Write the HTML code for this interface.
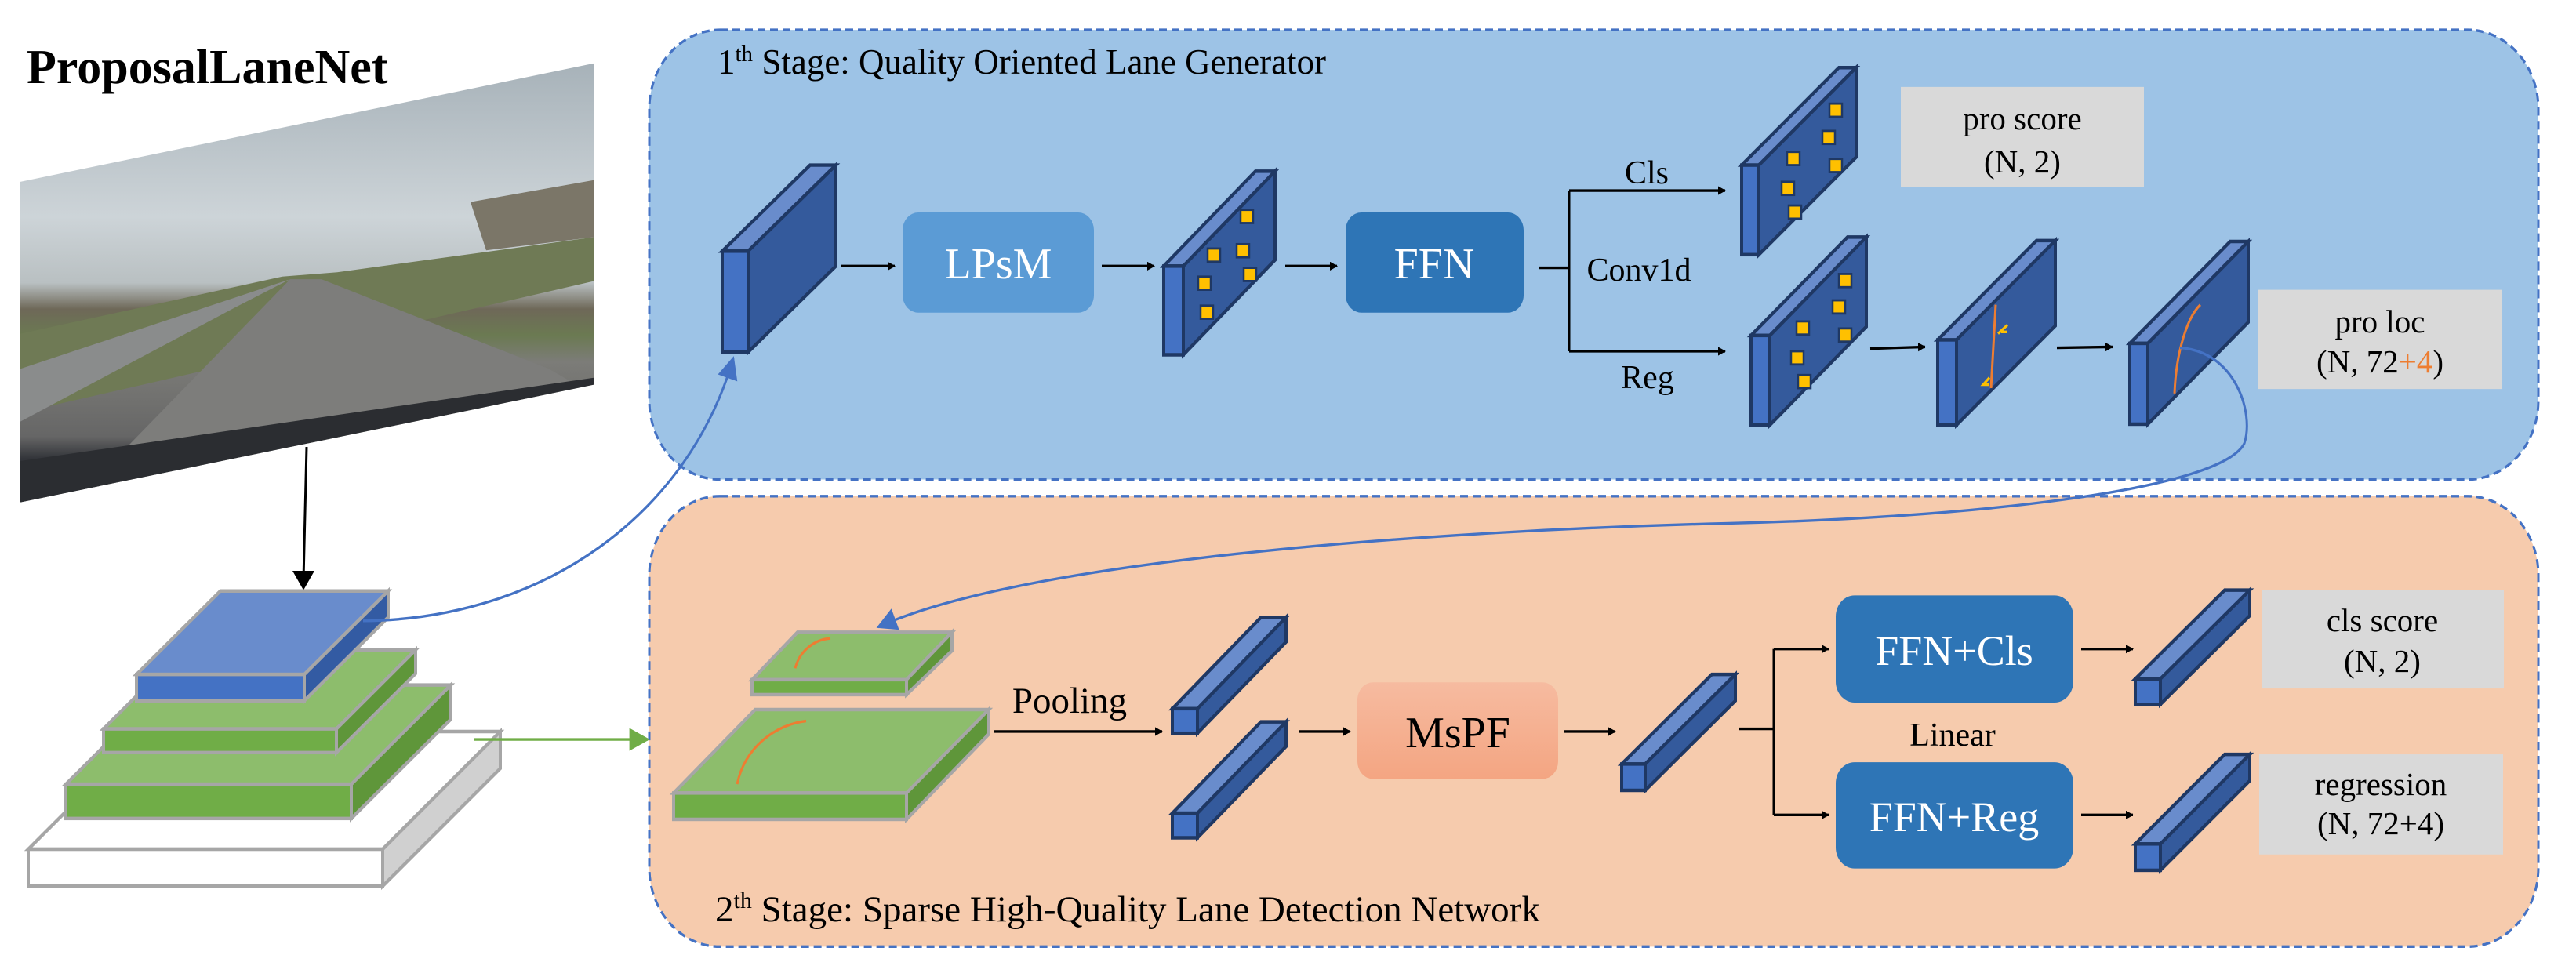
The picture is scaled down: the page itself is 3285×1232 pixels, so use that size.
<!DOCTYPE html>
<html><head><meta charset="utf-8"><style>
html,body{margin:0;padding:0;background:#fff}
svg{display:block}
svg text, svg tspan{font-family:"Liberation Serif","Times New Roman",serif !important}
</style></head><body>
<svg width="3285" height="1232" viewBox="0 0 3285 1232" xmlns="http://www.w3.org/2000/svg" font-family="Liberation Serif, serif" style="font-family:'Liberation Serif',serif">
<defs>
<marker id="ak" markerWidth="10" markerHeight="10" refX="9" refY="5" orient="auto" markerUnits="userSpaceOnUse" viewBox="0 0 10 10"><path d="M0,0 L10,5 L0,10z" fill="#000"/></marker>
<marker id="akb" viewBox="0 0 10 10" refX="9" refY="5" markerWidth="30" markerHeight="26" orient="auto" markerUnits="userSpaceOnUse"><path d="M0,0 L10,5 L0,10z" fill="#4472c4"/></marker>
<marker id="akg" viewBox="0 0 10 10" refX="9" refY="5" markerWidth="30" markerHeight="26" orient="auto" markerUnits="userSpaceOnUse"><path d="M0,0 L10,5 L0,10z" fill="#70ad47"/></marker>
<linearGradient id="photo" x1="0" y1="0" x2="0" y2="1">
<stop offset="0" stop-color="#a7b2b9"/><stop offset="0.35" stop-color="#cdd4d8"/><stop offset="0.5" stop-color="#b9c0c2"/>
<stop offset="0.56" stop-color="#6e6858"/><stop offset="0.62" stop-color="#6b7a52"/><stop offset="0.68" stop-color="#7c7c78"/>
<stop offset="0.85" stop-color="#666"/><stop offset="0.9" stop-color="#33353a"/><stop offset="1" stop-color="#25272b"/></linearGradient>
<linearGradient id="mspf" x1="0" y1="0" x2="0" y2="1"><stop offset="0" stop-color="#f6bba0"/><stop offset="1" stop-color="#f4a582"/></linearGradient>
<clipPath id="pc"><polygon points="26,207 758,72 758,438 26,572"/></clipPath>
</defs>

<g transform="scale(1,1.12)">
<rect x="828" y="34" width="2409" height="512" rx="90" fill="#9dc3e6" stroke="#4472c4" stroke-width="3" stroke-dasharray="10,6"/>
<rect x="828" y="565" width="2409" height="513" rx="90" fill="#f6cbad" stroke="#4472c4" stroke-width="3" stroke-dasharray="10,6"/>

<g clip-path="url(#pc)">
<rect x="26" y="72" width="732" height="500" fill="url(#photo)"/>
<polygon points="26,380 360,315 430,310 758,270 758,320 26,470" fill="#6f7a55"/>
<polygon points="150,520 370,318 410,318 700,420 758,450 758,470 100,572" fill="#7d7d7b"/>
<polygon points="26,420 370,318 300,350 26,480" fill="#8a8c8c"/>
<polygon points="600,230 758,205 758,270 620,285" fill="#7b7668"/>
<polygon points="26,525 758,430 758,438 26,572" fill="#2b2d31"/>
</g>
<line x1="391" y1="509" x2="387" y2="660" stroke="#000" stroke-width="3"/>
<path d="M387,672 l-14,-22 h28z" fill="#000"/>

<g stroke="#a6a6a6" stroke-width="4" stroke-linejoin="miter">
<polygon points="36,967 186,833 638,833 488,967" fill="#fff"/>
<polygon points="488,967 638,833 638,875 488,1009" fill="#d0d0d0"/>
<rect x="36" y="967" width="452" height="42" fill="#fff"/>
<polygon points="84,893 211,780 575,780 448,893" fill="#8dbd6c"/>
<polygon points="448,893 575,780 575,819 448,932" fill="#5f963a"/>
<rect x="84" y="893" width="364" height="39" fill="#70ad47"/>
<polygon points="132,830 233,740 530,740 429,830" fill="#8dbd6c"/>
<polygon points="429,830 530,740 530,767 429,857" fill="#5f963a"/>
<rect x="132" y="830" width="297" height="27" fill="#70ad47"/>
<polygon points="174,768 281,673 495,673 388,768" fill="#698ccc"/>
<polygon points="388,768 495,673 495,703 388,798" fill="#335ba3"/>
<rect x="174" y="768" width="214" height="30" fill="#4472c4"/>
</g>
<path d="M463,707 C700,705 880,580 935,408" fill="none" stroke="#4472c4" stroke-width="3" marker-end="url(#akb)"/>
<line x1="605" y1="842" x2="826" y2="842" stroke="#70ad47" stroke-width="3" marker-end="url(#akg)"/>

<g stroke="#1f3864" stroke-width="4" stroke-linejoin="miter">
<polygon points="921,286 1033,188 1066,188 954,286" fill="#698ccc"/><polygon points="954,286 1066,188 1066,303 954,401" fill="#345a9c"/><rect x="921" y="286" width="33" height="115" fill="#4472c4"/>
<polygon points="1484,303 1601,195 1626,195 1509,303" fill="#698ccc"/><polygon points="1509,303 1626,195 1626,296 1509,404" fill="#345a9c"/><rect x="1484" y="303" width="25" height="101" fill="#4472c4"/>
<polygon points="2221,188 2345,77 2367,77 2243,188" fill="#698ccc"/><polygon points="2243,188 2367,77 2367,179 2243,290" fill="#345a9c"/><rect x="2221" y="188" width="22" height="102" fill="#4472c4"/>
<polygon points="2233,382 2356,270 2380,270 2257,382" fill="#698ccc"/><polygon points="2257,382 2380,270 2380,372 2257,484" fill="#345a9c"/><rect x="2233" y="382" width="24" height="102" fill="#4472c4"/>
<polygon points="2471,387 2597,274 2621,274 2495,387" fill="#698ccc"/><polygon points="2495,387 2621,274 2621,371 2495,484" fill="#345a9c"/><rect x="2471" y="387" width="24" height="97" fill="#4472c4"/>
<polygon points="2716,391 2844,275 2867,275 2739,391" fill="#698ccc"/><polygon points="2739,391 2867,275 2867,367 2739,483" fill="#345a9c"/><rect x="2716" y="391" width="23" height="92" fill="#4472c4"/>
<polygon points="1495,807 1608,703 1640,703 1527,807" fill="#698ccc"/><polygon points="1527,807 1640,703 1640,731 1527,835" fill="#345a9c"/><rect x="1495" y="807" width="32" height="28" fill="#4472c4"/>
<polygon points="1495,926 1608,822 1640,822 1527,926" fill="#698ccc"/><polygon points="1527,926 1640,822 1640,850 1527,954" fill="#345a9c"/><rect x="1495" y="926" width="32" height="28" fill="#4472c4"/>
<polygon points="2068,870 2183,768 2213,768 2098,870" fill="#698ccc"/><polygon points="2098,870 2213,768 2213,798 2098,900" fill="#345a9c"/><rect x="2068" y="870" width="30" height="30" fill="#4472c4"/>
<polygon points="2723,773 2837,672 2869,672 2755,773" fill="#698ccc"/><polygon points="2755,773 2869,672 2869,701 2755,802" fill="#345a9c"/><rect x="2723" y="773" width="32" height="29" fill="#4472c4"/>
<polygon points="2723,961 2837,859 2869,859 2755,961" fill="#698ccc"/><polygon points="2755,961 2869,859 2869,889 2755,991" fill="#345a9c"/><rect x="2723" y="961" width="32" height="30" fill="#4472c4"/>
</g>

<g fill="#ffc000" stroke="#1f3864" stroke-width="2.5">
<rect x="1582" y="239" width="16" height="15"/><rect x="1540" y="283" width="16" height="15"/><rect x="1577" y="278" width="16" height="15"/><rect x="1528" y="315" width="16" height="15"/><rect x="1586" y="305" width="16" height="15"/><rect x="1531" y="348" width="16" height="15"/>
<rect x="2333" y="118" width="16" height="15"/><rect x="2324" y="149" width="16" height="15"/><rect x="2279" y="173" width="16" height="15"/><rect x="2333" y="181" width="16" height="15"/><rect x="2272" y="207" width="16" height="15"/><rect x="2281" y="234" width="16" height="15"/>
<rect x="2345" y="312" width="16" height="15"/><rect x="2337" y="342" width="16" height="15"/><rect x="2291" y="366" width="16" height="15"/><rect x="2345" y="374" width="16" height="15"/><rect x="2284" y="400" width="16" height="15"/><rect x="2293" y="427" width="16" height="15"/>
</g>

<path d="M2545,347 L2539,442" stroke="#ed7d31" stroke-width="3"/>
<path d="M2548,380 l12,-10 M2552,378 l8,0 M2537,430 l-8,8 l8,0" stroke="#ffc000" stroke-width="3" fill="none"/>
<path d="M2773,448 C2775,400 2790,360 2806,347" stroke="#ed7d31" stroke-width="3" fill="none"/>

<rect x="1151" y="242" width="244" height="114" rx="20" fill="#5b9bd5"/>
<rect x="1716" y="242" width="227" height="114" rx="20" fill="#2e75b6"/>
<rect x="1731" y="777" width="256" height="110" rx="20" fill="url(#mspf)"/>
<rect x="2341" y="678" width="303" height="122" rx="24" fill="#2e75b6"/>
<rect x="2341" y="868" width="303" height="121" rx="24" fill="#2e75b6"/>
<rect x="2424" y="99" width="310" height="114" fill="#d9d9d9"/>
<rect x="2880" y="330" width="310" height="113" fill="#d9d9d9"/>
<rect x="2884" y="672" width="309" height="112" fill="#d9d9d9"/>
<rect x="2881" y="859" width="311" height="114" fill="#d9d9d9"/>

<g stroke="#000" stroke-width="3" fill="none">
<line x1="1073" y1="303" x2="1141" y2="303" marker-end="url(#ak)"/>
<line x1="1405" y1="303" x2="1472" y2="303" marker-end="url(#ak)"/>
<line x1="1639" y1="303" x2="1705" y2="303" marker-end="url(#ak)"/>
<polyline points="1963,305 2001,305"/>
<polyline points="2001,217 2001,400"/>
<line x1="2001" y1="217" x2="2200" y2="217" marker-end="url(#ak)"/>
<line x1="2001" y1="400" x2="2200" y2="400" marker-end="url(#ak)"/>
<line x1="2385" y1="397" x2="2455" y2="395" marker-end="url(#ak)"/>
<line x1="2623" y1="396" x2="2694" y2="395" marker-end="url(#ak)"/>
<line x1="1268" y1="833" x2="1482" y2="833" marker-end="url(#ak)"/>
<line x1="1656" y1="833" x2="1722" y2="833" marker-end="url(#ak)"/>
<line x1="1994" y1="833" x2="2060" y2="833" marker-end="url(#ak)"/>
<polyline points="2217,830 2262,830"/>
<polyline points="2262,739 2262,928"/>
<line x1="2262" y1="739" x2="2332" y2="739" marker-end="url(#ak)"/>
<line x1="2262" y1="928" x2="2332" y2="928" marker-end="url(#ak)"/>
<line x1="2654" y1="739" x2="2720" y2="739" marker-end="url(#ak)"/>
<line x1="2654" y1="928" x2="2720" y2="928" marker-end="url(#ak)"/>
</g>

<g stroke="#a6a6a6" stroke-width="4">
<polygon points="959,774 1017,720 1214,720 1156,774" fill="#8dbd6c"/>
<polygon points="1156,774 1214,720 1214,741 1156,791" fill="#5f963a"/>
<rect x="959" y="774" width="197" height="17" fill="#70ad47"/>
<polygon points="859,903 963,808 1261,808 1156,903" fill="#8dbd6c"/>
<polygon points="1156,903 1261,808 1261,836 1156,933" fill="#5f963a"/>
<rect x="859" y="903" width="297" height="30" fill="#70ad47"/>
</g>
<path d="M1014,761 C1020,740 1040,728 1059,727" stroke="#ed7d31" stroke-width="3" fill="none"/>
<path d="M940,893 C950,850 990,825 1028,821" stroke="#ed7d31" stroke-width="3" fill="none"/>

<path d="M2780,396 C2850,400 2875,470 2862,505 C2830,560 2500,590 2200,596 C1800,605 1300,640 1120,714" fill="none" stroke="#4472c4" stroke-width="3" marker-end="url(#akb)"/>
</g>

<text x="34" y="106" font-size="62" font-weight="bold">ProposalLaneNet</text>
<text x="915" y="94" font-size="45">1<tspan font-size="29" dy="-16">th</tspan><tspan dy="16"> Stage: Quality Oriented Lane Generator</tspan></text>
<text x="912" y="1175" font-size="47">2<tspan font-size="30" dy="-17">th</tspan><tspan dy="17"> Stage: Sparse High-Quality Lane Detection Network</tspan></text>
<text x="1273" y="355" font-size="56" fill="#fff" text-anchor="middle">LPsM</text>
<text x="1829" y="355" font-size="56" fill="#fff" text-anchor="middle">FFN</text>
<text x="1859" y="953" font-size="56" text-anchor="middle">MsPF</text>
<text x="2492" y="848" font-size="54" fill="#fff" text-anchor="middle">FFN+Cls</text>
<text x="2492" y="1060" font-size="54" fill="#fff" text-anchor="middle">FFN+Reg</text>
<text x="2579" y="165" font-size="41" text-anchor="middle">pro score</text>
<text x="2579" y="220" font-size="41" text-anchor="middle">(N, 2)</text>
<text x="3035" y="424" font-size="41" text-anchor="middle">pro loc</text>
<text x="3035" y="475" font-size="41" text-anchor="middle">(N, 72<tspan fill="#ed7d31">+4</tspan>)</text>
<text x="3038" y="805" font-size="41" text-anchor="middle">cls score</text>
<text x="3038" y="857" font-size="41" text-anchor="middle">(N, 2)</text>
<text x="3036" y="1014" font-size="41" text-anchor="middle">regression</text>
<text x="3036" y="1064" font-size="41" text-anchor="middle">(N, 72+4)</text>
<text x="2100" y="234" font-size="42" text-anchor="middle">Cls</text>
<text x="2090" y="358" font-size="42" text-anchor="middle">Conv1d</text>
<text x="2101" y="495" font-size="42" text-anchor="middle">Reg</text>
<text x="1364" y="909" font-size="47" text-anchor="middle">Pooling</text>
<text x="2490" y="951" font-size="42" text-anchor="middle">Linear</text>
</svg>
</body></html>
